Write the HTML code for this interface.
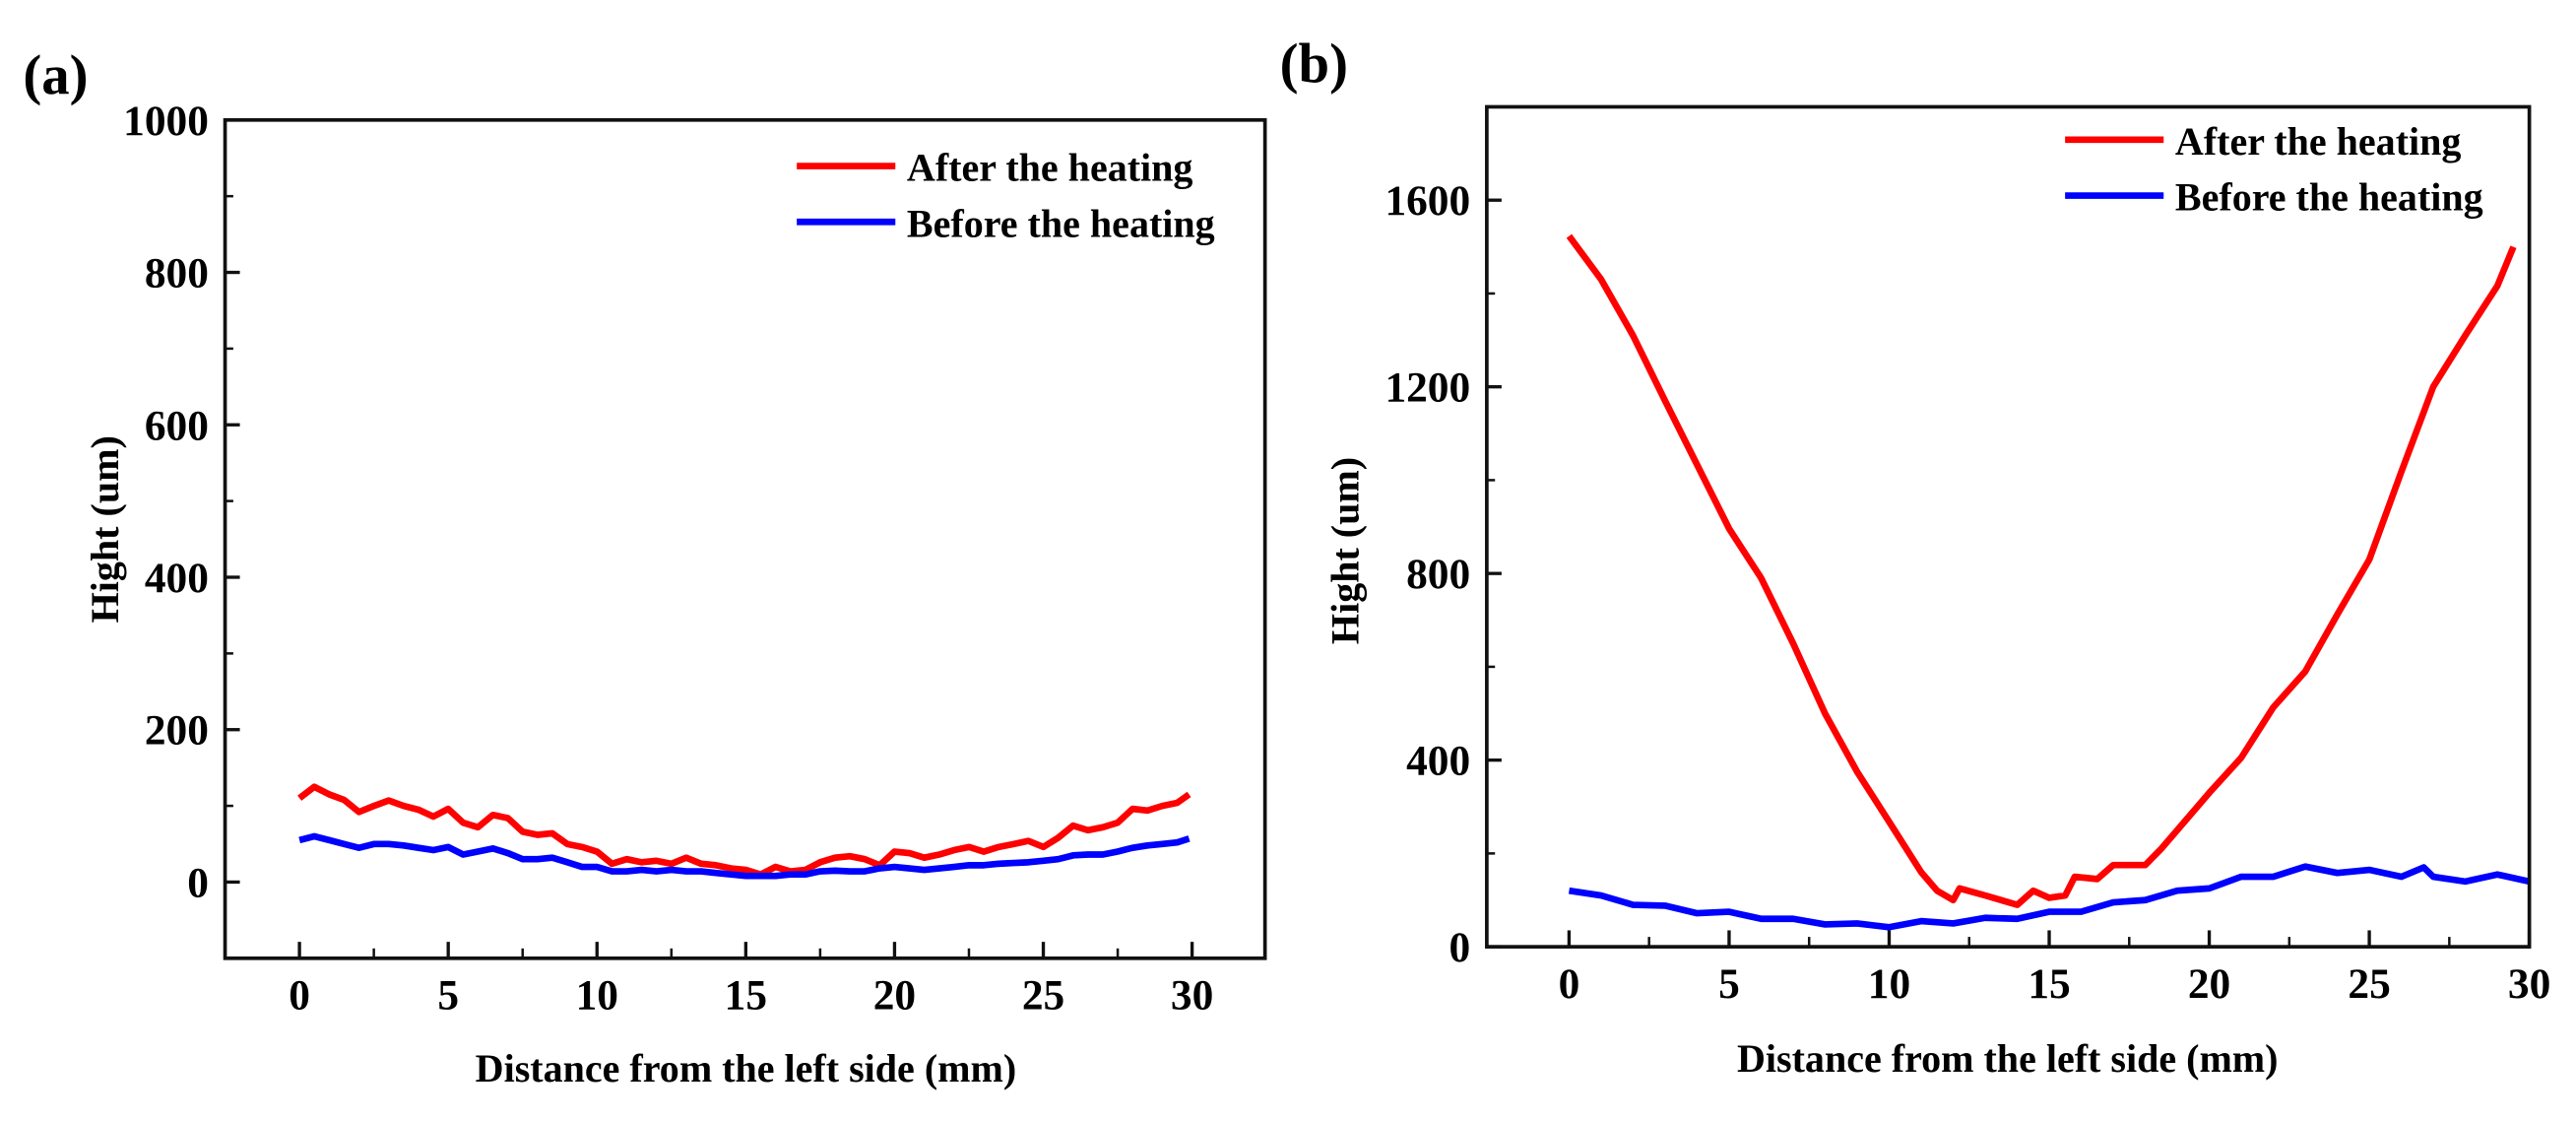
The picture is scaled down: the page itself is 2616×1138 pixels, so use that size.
<!DOCTYPE html>
<html><head><meta charset="utf-8"><style>
html,body{margin:0;padding:0;background:#fff;}
svg{display:block;}
text{font-family:"Liberation Serif",serif;font-weight:bold;fill:#000;}
</style></head><body>
<svg id="fig" width="2616" height="1138" viewBox="0 0 1568 682" preserveAspectRatio="none" xmlns="http://www.w3.org/2000/svg"></svg>
<script>
// Panel (a) data
const aX = [0,0.5,1,1.5,2,2.5,3,3.5,4,4.5,5,5.5,6,6.5,7,7.5,8,8.5,9,9.5,10,10.5,11,11.5,12,12.5,13,13.5,14,14.5,15,15.5,16,16.5,17,17.5,18,18.5,19,19.5,20,20.5,21,21.5,22,22.5,23,23.5,24,24.5,25,25.5,26,26.5,27,27.5,28,28.5,29,29.5,29.9];
const aAfter = [110,125,115,108,92,100,107,100,95,86,96,78,72,88,84,66,62,64,50,46,40,24,30,26,28,24,32,24,22,18,16,10,20,14,16,26,32,34,30,22,40,38,32,36,42,46,40,46,50,54,46,58,74,68,72,78,96,94,100,104,115];
const aBefore = [55,60,55,50,45,50,50,48,45,42,46,36,40,44,38,30,30,32,26,20,20,14,14,16,14,16,14,14,12,10,8,8,8,10,10,14,15,14,14,18,20,18,16,18,20,22,22,24,25,26,28,30,35,36,36,40,45,48,50,52,57];
// Panel (b) data
const bX = [0,1,2,3,4,5,6,7,8,9,10,11,11.5,12,12.2,13,14,14.5,15,15.5,15.8,16.5,17,18,18.5,19,20,21,22,23,24,25,26,27,28,29,29.5];
const bAfter = [1523,1430,1310,1170,1033,896,790,650,500,375,268,160,120,100,125,110,90,120,105,110,150,145,175,175,210,250,330,405,513,590,712,830,1018,1200,1310,1416,1500];
const bBX = [0,1,2,3,4,5,6,7,8,9,10,11,12,13,14,15,16,17,18,19,20,21,22,23,24,25,26,26.7,27,28,29,30];
const bBefore = [120,110,90,88,72,75,60,60,48,50,42,55,50,62,60,75,75,95,100,120,125,150,150,172,158,165,150,170,150,140,155,140];
const aYTicks = [0,200,400,600,800,1000];
const bYTicks = [0,400,800,1200,1600];
const xTicks = [0,5,10,15,20,25,30];

const NS = "http://www.w3.org/2000/svg";
const svg = document.getElementById('fig');
function mk(tag, attrs, parent){const e=document.createElementNS(NS,tag);for(const k in attrs)e.setAttribute(k,attrs[k]);(parent||svg).appendChild(e);return e;}

function panel(p){
  const g = mk('g',{});
  
  
  const sx = v => p.x0 + (v - p.xmin)/(p.xmax - p.xmin)*(p.x1 - p.x0);
  const sy = v => p.y1 - (v - p.ymin)/(p.ymax - p.ymin)*(p.y1 - p.y0);
  p.series.forEach(s=>{
    const d = s.xs.map((x,i)=>(i?'L':'M')+sx(x).toFixed(1)+' '+sy(s.ys[i]).toFixed(1)).join(' ');
    const path = mk('path',{d:d,fill:'none',stroke:s.color,'stroke-width':4,'stroke-linejoin':'round'},g);
    
    
  });
  const box = mk('rect',{x:p.x0,y:p.y0,width:p.x1-p.x0,height:p.y1-p.y0,fill:'none',stroke:'#111','stroke-width':2.2},g);
  
  
  p.yTicks.forEach(v=>{
    mk('line',{x1:p.x0,x2:p.x0+9,y1:sy(v),y2:sy(v),stroke:'#111','stroke-width':2},g);
    const t = mk('text',{x:p.x0-10,y:sy(v)+9,'text-anchor':'end','font-size':26},g);
    t.textContent = v;
    
    
  });
  for(let v=p.yTicks[0]-p.yStep/2; v<p.ymax; v+=p.yStep){
    if(v<=p.ymin) continue;
    mk('line',{x1:p.x0,x2:p.x0+5,y1:sy(v),y2:sy(v),stroke:'#111','stroke-width':1.5},g);
  }
  xTicks.forEach(v=>{
    mk('line',{x1:sx(v),x2:sx(v),y1:p.y1,y2:p.y1-10,stroke:'#111','stroke-width':2},g);
    const t = mk('text',{x:sx(v),y:p.y1+31,'text-anchor':'middle','font-size':26},g);
    t.textContent = v;
    
    
  });
  for(let v=2.5; v<30; v+=5){
    mk('line',{x1:sx(v),x2:sx(v),y1:p.y1,y2:p.y1-6,stroke:'#111','stroke-width':1.5},g);
  }
  const xt = mk('text',{x:p.xtx,y:p.xty,'text-anchor':'middle','font-size':24},g);
  xt.textContent = 'Distance from the left side (mm)';
  
  
  const yt = mk('text',{x:0,y:0,'text-anchor':'middle','font-size':24,transform:`translate(${p.ytx},${p.yty}) rotate(-90)`},g);
  yt.textContent = 'Hight (um)';
  
  
  const lab = mk('text',{x:p.labx,y:p.laby,'font-size':34},g);
  lab.textContent = p.label;
  
  
  p.series.forEach((s,i)=>{
    const ly = p.legy + i*34;
    const le = mk('g',{},g);
    
    
    mk('line',{x1:p.legx,x2:p.legx+60,y1:ly,y2:ly,stroke:s.color,'stroke-width':4},le);
    const t = mk('text',{x:p.legx+67,y:ly+9,'font-size':24},le);
    t.textContent = s.label;
  });
}

panel({name:'panel-a',label:'(a)',x0:137,x1:770,y0:73,y1:583,xmin:-2.5,xmax:32.45,ymin:-100,ymax:1000,
  yTicks:aYTicks,yStep:200,xtx:454,xty:658,ytx:72,yty:322,labx:14,laby:57,legx:485,legy:101,
  series:[{key:'after-heating-line-a',label:'After the heating',color:'#ff0000',xs:aX,ys:aAfter},
          {key:'before-heating-line-a',label:'Before the heating',color:'#0000ff',xs:aX,ys:aBefore}]});
panel({name:'panel-b',label:'(b)',x0:905,x1:1539.6,y0:65,y1:576,xmin:-2.57,xmax:30,ymin:0,ymax:1800,
  yTicks:bYTicks,yStep:400,xtx:1222,xty:652,ytx:827,yty:335,labx:779,laby:50,legx:1257,legy:85,
  series:[{key:'after-heating-line-b',label:'After the heating',color:'#ff0000',xs:bX,ys:bAfter},
          {key:'before-heating-line-b',label:'Before the heating',color:'#0000ff',xs:bBX,ys:bBefore}]});
</script>
</body></html>
